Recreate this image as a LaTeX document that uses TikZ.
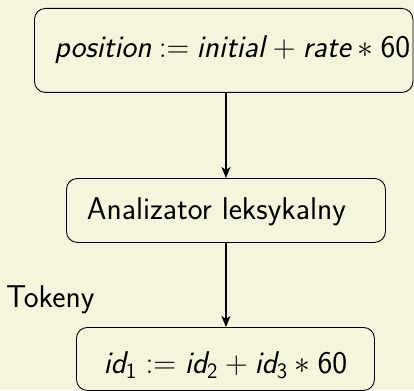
\documentclass[tikz,border=0pt]{standalone}
\usepackage{fix-cm}
\usepackage{amsmath}
\usepackage{fontspec}
\usetikzlibrary{arrows.meta}
\definecolor{paper}{RGB}{245,245,222}
\begin{document}
\begin{tikzpicture}[x=1pt,y=1pt,
  box/.style={draw=black, line width=0.9pt, rounded corners=11pt, inner sep=0pt,
    anchor=north west, font=\fontsize{31.5}{38}\selectfont\sffamily},
  label/.style={inner sep=0pt, anchor=base west, font=\fontsize{31.5}{38}\selectfont\sffamily},
  flow/.style={line width=1.6pt, -{Stealth[length=11pt,width=9pt,inset=3pt]}}]
  % page
  \fill[paper] (0,0) rectangle (414,-390);
  \useasboundingbox (0,0) rectangle (414,-390);
  % source statement
  \node[box, minimum width=378.5pt, minimum height=84pt, text height=22pt, text depth=8pt]
    (src) at (34,-8)
    {\makebox[334.5pt][l]{\hspace{-2pt}\thickmuskip=4.2mu
      $\textit{position} := \textit{initial}\kern1pt + \textit{rate} \ast \textsf{60}$}};
  % scanner
  \node[box, minimum width=319pt, minimum height=64pt, text height=22pt, text depth=4pt]
    (lex) at (66,-178)
    {\makebox[275pt][l]{\hspace{-1.5pt}Analizator leksykalny}};
  % token stream
  \node[box, minimum width=298pt, minimum height=63pt, text height=31pt, text depth=2pt]
    (tok) at (76,-327)
    {$\textit{id}_{\textsf{1}} := \textit{id}_{\textsf{2}} + \textit{id}_{\textsf{3}} \ast \textsf{60}$};
  \node[label] (tlab) at (6,-307) {Tokeny};
  % flow
  \draw[flow] (src.south -| lex.north) -- (lex.north);
  \draw[flow] (lex.south) -- (lex.south |- tok.north);
\end{tikzpicture}
\end{document}
